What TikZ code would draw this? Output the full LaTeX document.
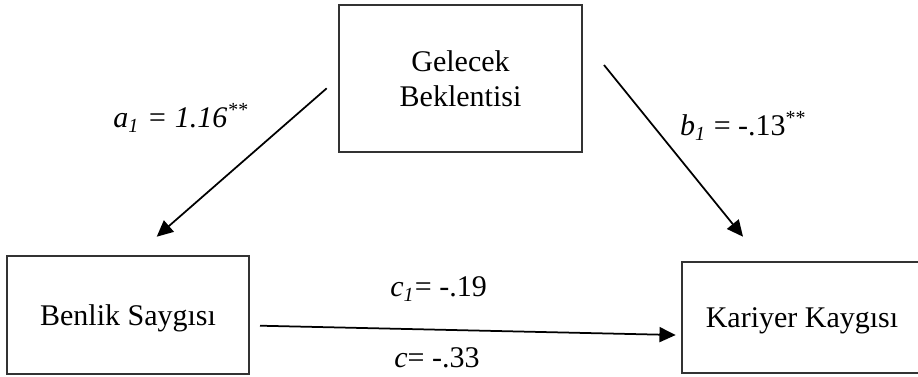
\documentclass[tikz,border=0pt]{standalone}
\usepackage{fontspec}
\setmainfont{Liberation Serif}
\usetikzlibrary{arrows.meta}

\begin{document}
\begin{tikzpicture}[
  x=0.4pt, y=-0.4pt,
  >={Triangle[length=6.5pt,width=6pt]}, line width=0.7pt,
  varbox/.style={draw=black!80, line width=0.8pt, inner sep=0pt,
    font=\fontsize{12}{14}\selectfont},
  lbl/.style={inner sep=0pt, font=\fontsize{12}{14}\selectfont}
]
  \useasboundingbox (0,0) rectangle (918,376);

  % positions
  \node[varbox, align=center, minimum width=97.2pt, minimum height=58.8pt]
    (GB) at (460.5,78.5) {Gelecek\\Beklentisi};
  \node[varbox, text depth=0pt, minimum width=96.8pt, minimum height=47.3pt]
    (BS) at (128,314.8) {Benlik Saygısı};
  \node[varbox, text depth=0pt, minimum width=96pt, minimum height=44.2pt]
    (KK) at (802,317.5) {Kariyer Kaygısı};

  % arrow ends
  \coordinate (As) at (326.7,88.3);
  \coordinate (Ae) at (156.7,236.7);
  \coordinate (Bs) at (604,65);
  \coordinate (Be) at (743,236.7);
  \coordinate (Cs) at (260,325.7);
  \coordinate (Ce) at (675.7,335);

  % edges
  \draw[->] (As) -- (Ae);
  \draw[->] (Bs) -- (Be);
  \draw[->] (Cs) -- (Ce);

  % labels
  \node[lbl] (La) at (181,118) {\textit{a\textsubscript{1} = 1.16\textsuperscript{**}}};
  \node[lbl] (Lb) at (743.5,126) {\textit{b\textsubscript{1}} = -.13\textsuperscript{**}};
  \node[lbl] (Lc1) at (438.6,289) {\textit{c\textsubscript{1}}= -.19};
  \node[lbl] (Lc) at (437,358) {\textit{c}= -.33};
\end{tikzpicture}
\end{document}
